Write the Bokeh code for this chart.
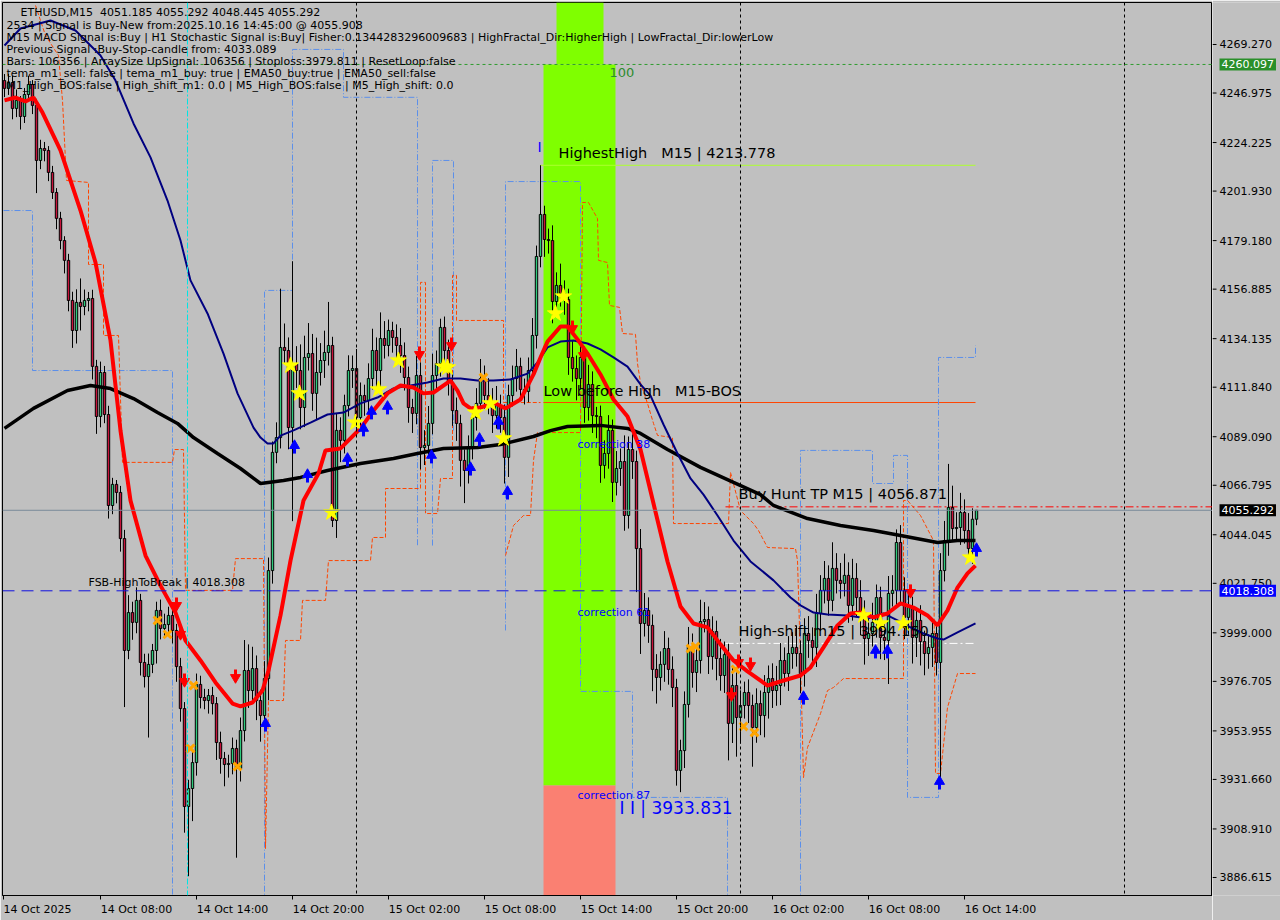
from bokeh.plotting import figure
from bokeh.layouts import row
from bokeh.models import Range1d, FixedTicker, Span, Label
from bokeh.core.properties import value
from bokeh.embed import file_html
from bokeh.resources import INLINE

NaN = float("nan")
NB = "\u00a0"

# ---------------- ETHUSD M15 candles (bar 0 = 14 Oct 02:00) ----------------
first_open = 4252.7
closes = [
    4249.1, 4251.8, 4239.9, 4243.6, 4236.2, 4246.3, 4250.9, 4241.3, 4216.0, 4221.5,
    4220.6, 4210.5, 4201.3, 4189.4, 4179.2, 4170.1, 4151.7, 4137.9, 4150.8, 4148.9,
    4151.7, 4152.6, 4121.4, 4098.4, 4118.6, 4099.3, 4057.5, 4067.2, 4063.5, 4042.3,
    3990.9, 4008.3, 4003.8, 4013.9, 3985.4, 3978.9, 3984.5, 3990.9, 4009.3, 4001.0,
    4002.8, 4007.0, 4000.1, 3983.5, 3964.2, 3919.2, 3927.5, 3939.4, 3975.3, 3969.3,
    3967.9, 3970.2, 3966.5, 3948.6, 3941.3, 3938.5, 3939.0, 3945.9, 3936.7, 3954.1,
    3981.7, 3972.5, 3982.6, 3967.9, 3961.0, 3978.0, 4027.6, 4081.9, 4088.7, 4130.1,
    4128.7, 4093.3, 4122.7, 4119.5, 4102.5, 4125.5, 4127.3, 4109.0, 4118.6, 4124.1,
    4127.8, 4131.0, 4050.6, 4092.0, 4087.4, 4103.4, 4119.5, 4120.4, 4097.9, 4108.0,
    4105.7, 4115.8, 4128.7, 4119.5, 4134.2, 4131.0, 4137.9, 4134.7, 4131.0, 4126.4,
    4116.3, 4102.5, 4099.8, 4117.2, 4084.1, 4085.1, 4095.2, 4117.2, 4122.7, 4139.3,
    4128.7, 4114.0, 4101.1, 4095.2, 4078.2, 4073.6, 4083.7, 4097.9, 4104.4, 4115.8,
    4108.0, 4104.4, 4098.8, 4103.4, 4097.9, 4079.6, 4108.0, 4115.8, 4121.4, 4110.8,
    4109.9, 4119.5, 4135.6, 4171.9, 4191.2, 4179.7, 4179.2, 4151.2, 4158.6, 4154.9,
    4152.1, 4125.5, 4120.4, 4115.8, 4125.5, 4102.5, 4113.1, 4098.8, 4098.4, 4075.9,
    4081.4, 4092.0, 4068.1, 4074.5, 4077.7, 4052.9, 4083.2, 4077.7, 4037.7, 4003.3,
    4009.3, 4002.4, 3982.2, 3978.5, 3984.5, 3991.8, 3982.2, 3973.9, 3935.8, 3944.9,
    3966.1, 3992.7, 3980.8, 3986.3, 4004.2, 4005.1, 3988.1, 3999.6, 3987.2, 3979.4,
    3989.0, 3957.4, 3974.8, 3960.1, 3965.6, 3971.6, 3965.6, 3955.5, 3966.5, 3961.0,
    3971.6, 3978.0, 3972.5, 3974.8, 3986.3, 3980.3, 3989.5, 3992.3, 3989.5, 3980.3,
    3998.7, 3995.5, 3992.3, 4007.9, 4018.5, 4024.0, 4013.9, 4028.6, 4023.1, 4021.7,
    4025.4, 4011.6, 4024.0, 4015.2, 4007.9, 3996.4, 3998.7, 4003.8, 4015.2, 3996.9,
    3995.5, 4017.1, 4018.5, 4040.5, 4018.5, 4006.1, 4010.6, 3996.9, 4004.7, 3995.0,
    3989.5, 3992.3, 3998.7, 3985.4, 4027.6, 4041.4, 4056.6, 4046.9, 4047.4, 4054.3,
    4046.0, 4037.7, 4051.185, 4055.292,
]
upper_wick = [
    3, 4, 3, 5, 2, 3, 4, 2, 3, 4,
    3, 2, 3, 2, 3, 2, 3, 4, 6, 11,
    5, 3, 4, 3, 5, 3, 4, 3, 2, 3,
    4, 8, 5, 6, 3, 4, 5, 3, 4, 5,
    5, 4, 6, 3, 4, 3, 4, 6, 5, 4,
    4, 3, 4, 3, 5, 3, 4, 5, 4, 6,
    14, 12, 10, 6, 5, 8, 6, 5, 7, 27,
    11, 6, 47, 8, 12, 10, 14, 9, 16, 8,
    10, 20, 4, 8, 6, 5, 7, 6, 9, 6,
    5, 7, 10, 6, 12, 8, 5, 4, 6, 8,
    6, 5, 4, 9, 6, 7, 8, 10, 6, 4,
    5, 5, 4, 6, 4, 5, 6, 5, 7, 9,
    6, 8, 7, 9, 5, 6, 5, 6, 8, 4,
    5, 6, 8, 5, 22.6, 4, 5, 7, 6, 10,
    6, 5, 8, 6, 7, 5, 9, 6, 4, 5,
    6, 7, 5, 8, 6, 12, 6, 7, 5, 9,
    8, 6, 5, 7, 6, 8, 5, 6, 4, 5,
    6, 9, 6, 7, 10, 8, 6, 7, 5, 9,
    6, 5, 8, 6, 7, 5, 6, 5, 7, 6,
    8, 6, 7, 9, 8, 6, 8, 7, 10, 6,
    7, 8, 6, 9, 7, 8, 6, 12, 7, 8,
    10, 6, 9, 7, 8, 6, 7, 9, 6, 5,
    6, 8, 7, 6, 8, 6, 7, 5, 6, 7,
    5, 6, 7, 5, 8, 9, 20, 10, 7, 9,
    6, 8, 5, 0,
]
lower_wick = [
    4, 3, 5, 4, 6, 3, 2, 4, 15, 4,
    5, 4, 3, 5, 4, 6, 5, 8, 6, 11,
    4, 5, 6, 8, 5, 4, 6, 4, 5, 6,
    26, 4, 8, 5, 6, 5, 28, 4, 6, 5,
    4, 5, 6, 7, 6, 12, 32, 15, 6, 5,
    4, 6, 5, 8, 7, 10, 6, 5, 41, 6,
    5, 8, 6, 9, 12, 6, 10, 6, 5, 5,
    6, 10, 43, 8, 10, 9, 6, 8, 12, 6,
    8, 6, 3, 8, 10, 6, 5, 8, 9, 6,
    7, 6, 5, 9, 8, 6, 5, 7, 6, 8,
    6, 7, 9, 5, 10, 8, 6, 5, 7, 6,
    5, 6, 7, 8, 12, 15, 6, 5, 6, 4,
    6, 5, 8, 6, 7, 12, 9, 5, 6, 5,
    6, 5, 4, 6, 5, 8, 6, 10, 5, 6,
    7, 8, 6, 10, 5, 7, 6, 8, 10, 8,
    6, 7, 9, 6, 8, 7, 6, 8, 20, 14,
    6, 8, 10, 12, 6, 8, 7, 9, 7, 10,
    8, 6, 7, 9, 6, 5, 8, 6, 10, 7,
    8, 17, 9, 18, 12, 6, 8, 18, 7, 9,
    10, 12, 8, 7, 9, 6, 8, 7, 6, 9,
    6, 8, 7, 9, 8, 6, 7, 5, 6, 7,
    6, 8, 7, 9, 10, 12, 8, 6, 7, 10,
    9, 20, 6, 8, 7, 10, 8, 12, 9, 11,
    10, 7, 9, 6, 58, 5, 7, 6, 5, 8,
    6, 5, 7, 2.74,
]

# ---------------- moving averages (bar, price) ----------------
ema_fast_x = [0, 2.75, 5.25, 7.25, 9.5, 14, 19, 22.75, 26.5, 29, 31.5, 35.25, 39, 42.75, 45.25,
              49, 52.75, 57, 59, 62, 64.5, 66, 69, 71.5, 72.75, 74.75, 78.5, 80.25, 84, 89,
              92.25, 95.75, 99, 102.25, 104.75, 107.25, 111.5, 113.25, 114.75, 116.5, 119,
              122.25, 125.25, 129, 132.25, 134, 135.75, 139, 140.75, 143.25, 145.75, 149,
              152.25, 155.75, 159, 162.25, 165.75, 169, 172.25, 175.75, 179, 182.25, 185.75,
              190.75, 194.75, 199, 201.5, 204.75, 208.25, 211.5, 214, 217.25, 220.75, 224,
              227.25, 230.75, 233.25, 235.75, 238.25, 240.75, 242.75]
ema_fast_y = [4243.6, 4244.9, 4243.1, 4244.9, 4238.0, 4220.6, 4193.0, 4169.1, 4133.3, 4091.9,
              4059.8, 4034.5, 4020.7, 4008.3, 3995.5, 3986.3, 3976.2, 3966.5, 3965.2, 3967.0,
              3972.5, 3981.7, 4007.0, 4032.2, 4042.8, 4059.8, 4072.2, 4082.8, 4083.7, 4092.9,
              4101.1, 4109.0, 4112.6, 4111.7, 4109.0, 4109.4, 4114.9, 4110.3, 4104.4, 4102.1,
              4102.5, 4104.8, 4102.1, 4106.2, 4117.7, 4125.5, 4132.8, 4139.7, 4139.7, 4133.8,
              4127.3, 4117.7, 4106.2, 4098.4, 4083.2, 4058.4, 4031.8, 4011.1, 4003.3, 4001.5,
              3993.7, 3986.3, 3981.3, 3974.8, 3977.1, 3979.4, 3983.1, 3992.3, 4002.4, 4007.9,
              4008.3, 4006.1, 4007.9, 4012.5, 4010.6, 4007.0, 4002.4, 4009.3, 4019.8, 4026.3,
              4029.9]
ema_mid_x = [0, 4, 11.5, 17.75, 24, 27.75, 32.25, 36.5, 40.75, 44, 46.5, 50.75, 54.75, 58.25,
             62.25, 64, 65.75, 67.25, 69, 72.25, 76.5, 80.75, 84.75, 89, 93.25, 97.25, 101.5,
             105.75, 109.75, 114, 118.25, 122.25, 126.5, 130.75, 133.25, 135.75, 139, 142.25,
             145.75, 149, 152.25, 155.75, 159, 161.5, 164.75, 168.25, 171.5, 174.75, 178.25,
             182.25, 186.5, 192.25, 196.5, 199, 202.25, 205.75, 210.75, 215.75, 219.75,
             223.25, 226.5, 229.75, 233.25, 234.75, 238.25, 242.75]
ema_mid_y = [4268.8, 4276.6, 4280.3, 4275.7, 4264.2, 4252.7, 4233.0, 4217.4, 4197.6, 4179.2,
             4160.9, 4145.7, 4127.3, 4109.0, 4093.3, 4088.7, 4086.0, 4086.0, 4089.6, 4092.0,
             4095.6, 4099.3, 4100.2, 4104.4, 4107.1, 4111.3, 4112.6, 4114.0, 4115.8, 4115.8,
             4114.9, 4114.9, 4115.4, 4118.1, 4123.2, 4130.1, 4132.8, 4133.3, 4131.9, 4129.2,
             4125.5, 4121.3, 4113.1, 4108.0, 4094.7, 4081.4, 4069.9, 4062.5, 4052.9, 4041.4,
             4031.8, 4023.1, 4015.2, 4011.6, 4008.3, 4007.4, 4007.0, 4005.6, 4007.9, 4004.7,
             4001.5, 3998.7, 3996.4, 3995.9, 3999.2, 4003.3]
ema_slow_x = [0, 7.25, 15.75, 21.5, 26.5, 32.25, 38.25, 43.25, 47.25, 53.25, 59, 64, 69.75,
              74, 80.75, 89, 97.25, 103.25, 109.75, 118.25, 124, 132.25, 136.5, 140.75, 149,
              155.75, 159, 165.75, 174, 182.25, 189, 192.25, 200.75, 209, 217.25, 224,
              233.25, 238.25, 242.75]
ema_slow_y = [4092.9, 4102.1, 4110.3, 4112.6, 4111.2, 4106.6, 4100.2, 4095.2, 4088.7, 4081.4,
              4074.5, 4067.6, 4069.0, 4070.4, 4073.6, 4076.8, 4079.1, 4081.4, 4083.7, 4084.1,
              4085.5, 4089.2, 4091.9, 4093.8, 4094.3, 4092.9, 4090.6, 4083.2, 4075.0, 4068.1,
              4062.5, 4057.5, 4051.5, 4048.3, 4046.0, 4043.7, 4040.5, 4041.4, 4041.4]

# ---------------- stepped channel lines ----------------
channel_blue_x = [-0.25, 7, 7, 42, 42, NaN,
                  65, 65, 72, 72, 84.75, 84.75, 103.25, 103.25, NaN,
                  107, 107, 112.25, 112.25, NaN,
                  125.25, 125.25, 144, 144, 157, 157, 180.75, 180.75, NaN,
                  199, 199, 217, 217, 222.25, 222.25, 225.75, 225.75, 233.5, 233.5,
                  242.75, 242.75]
channel_blue_y = [4193.0, 4193.0, 4119.5, 4119.5, 3870.0, NaN,
                  3870.0, 4156.3, 4156.3, 4267.0, 4267.0, 4245.0, 4245.0, 4039.1, NaN,
                  4039.1, 4216.0, 4216.0, 4091.9, NaN,
                  4000.1, 4206.3, 4206.3, 3972.1, 3972.1, 3923.4, 3923.4, 3870.0, NaN,
                  3870.0, 4082.8, 4082.8, 4067.6, 4067.6, 4080.5, 4080.5, 3923.4, 3923.4,
                  4125.5, 4125.5, 4131.0]
channel_orange_x = [7.75, 10.25, 13.5, 14.5, 15.5, 21, 21, 24.75, 24.75, 28.5, 29.5, 42, 42.5,
                    44.75, 45.25, 57, 57.75, 64.75, 65.25, 66, 69.75, 70.25, 74, 74.5, 80.25,
                    81, 85.25, 91.5, 92, 95.25, 95.25, 104, 104, 105.25, 105.25, 108.25, 109,
                    112, 112, 113, 113, 124.75, 124.75, 134, NaN,
                    125.25, 127.25, 129.75, 131.5, 132.25, 133.25, 144, 144.5, 146, 148.25,
                    148.5, 150.75, 151.25, 153.75, 154.5, 157.75, 158.25, 159, 160.75, 162.25,
                    163.25, 167, 167.25, 181, 181.5, 184, 187.25, 188.5, 190.75, 197.75,
                    198.25, 199, 199.75, 200.75, 204, 205.75, 207.25, 209.75, 224.75, 224.75,
                    225.75, 229, 232.25, 232.75, 234, 235.75, 238.25, 242.75]
channel_orange_y = [4287.2, 4273.4, 4264.2, 4243.6, 4206.8, 4205.9, 4168.2, 4168.2, 4135.6,
                    4135.6, 4077.3, 4077.3, 4083.2, 4083.2, 4018.5, 4018.5, 4033.1, 4033.1,
                    3899.9, 3967.9, 3967.9, 3995.5, 3995.5, 4013.9, 4013.9, 4032.2, 4032.2,
                    4032.2, 4042.8, 4042.8, 4065.3, 4065.3, 4160.0, 4160.0, 4053.8, 4053.8,
                    4069.9, 4069.9, 4163.2, 4163.2, 4142.5, 4142.5, 4104.8, 4104.8, NaN,
                    4034.5, 4048.3, 4052.9, 4052.9, 4078.2, 4091.0, 4091.0, 4196.7, 4196.7,
                    4189.3, 4170.1, 4169.1, 4149.4, 4148.5, 4136.5, 4136.1, 4122.7, 4114.0,
                    4104.4, 4095.2, 4089.7, 4088.7, 4049.2, 4049.2, 4072.7, 4055.2, 4049.2,
                    4046.0, 4038.2, 4037.7, 4032.2, 3986.3, 3932.5, 3946.3, 3961.9, 3972.5,
                    3973.9, 3978.0, 3978.0, 4059.8, 4059.8, 4052.9, 4041.4, 3934.4, 3934.4,
                    3964.7, 3980.3, 3980.3]

# ---------------- signal markers ----------------
star_x = [71.5, 73.75, 81.75, 87.75, 93.5, 98.5, 109.75, 110.75, 117.75, 121.5, 124.75,
          137.75, 139.75, 214.75, 219, 224.75, 241.5]
star_y = [4121.8, 4109.0, 4054.3, 4095.6, 4110.8, 4124.1, 4121.3, 4120.9, 4100.2, 4104.4,
          4088.3, 4145.7, 4153.5, 4007.0, 4003.3, 4003.3, 4033.6]
cross_x = [38.25, 40.75, 47.25, 46.5, 58.25, 119.75, 171.5, 172.75, 182.75, 184.75, 187.5]
cross_y = [4004.7, 3998.3, 3974.8, 3945.9, 3937.6, 4116.3, 3991.8, 3992.7, 3982.2, 3956.0, 3953.2]
buy_x = [65.25, 72.5, 75.75, 85.75, 89.75, 91.75, 95.75, 106.75, 116.5, 118.75, 123.5, 125.75,
         199.75, 217.75, 220.75, 233.75, 243]
buy_y = [3956.4, 4084.1, 4070.8, 4078.2, 4092.0, 4099.8, 4102.1, 4079.6, 4074.0, 4087.4,
         4095.2, 4063.0, 3968.8, 3990.0, 3990.0, 3929.8, 4036.8]
sell_x = [43, 44, 45, 57.75, 103.75, 111.75, 142, 144.75, 181.75, 183.5, 186.5, 226.5]
sell_y = [4012.5, 3999.2, 3977.6, 3979.4, 4127.8, 4131.9, 4139.7, 4127.3, 3971.1, 3986.3,
          3984.9, 4018.5]

# ---------------- levels ----------------
TOP_LEVEL = 4260.097
HIGHEST_HIGH = 4213.778
LOW_BEFORE_HIGH = 4104.8
BUY_HUNT_TP = 4056.871
LAST_PRICE = 4055.292
FSB_HIGH = 4018.308
HIGH_SHIFT = 3994.150
CORR_LOW = 3933.831
ZONE_SPLIT = 3928.9
zone_left, zone_right = 134.75, 152.75
zone_top_left, zone_top_right = 138.0, 149.75
level_start = 134.75
level_end = 242.75
hunt_start = 180.25
day_breaks = [88, 184, 280]
cyan_mark = 45.75

y_ticks = [4269.270, 4246.975, 4224.225, 4201.930, 4179.180, 4156.885, 4134.135, 4111.840,
           4089.090, 4066.795, 4044.045, 4021.750, 3999.000, 3976.705, 3953.955, 3931.660,
           3908.910, 3886.615]
x_tick_bars = [-0.25, 24, 48, 72, 96, 120, 144, 168, 192, 216, 240]
x_tick_labels = ["14 Oct 2025", "14 Oct 08:00", "14 Oct 14:00", "14 Oct 20:00", "15 Oct 02:00",
                 "15 Oct 08:00", "15 Oct 14:00", "15 Oct 20:00", "16 Oct 02:00",
                 "16 Oct 08:00", "16 Oct 14:00"]
price_tags = [(TOP_LEVEL, "#2A8F2A"), (LAST_PRICE, "black"), (FSB_HIGH, "#0000FF")]

info_lines = [
    "ETHUSD,M15" + NB + NB + "4051.185 4055.292 4048.445 4055.292",
    "2534 | Signal is Buy-New from:2025.10.16 14:45:00 @ 4055.908",
    "M15 MACD Signal is:Buy | H1 Stochastic Signal is:Buy| Fisher:0.1344283296009683 | HighFractal_Dir:HigherHigh | LowFractal_Dir:lowerLow",
    "Previous Signal :Buy-Stop-candle from: 4033.089",
    "Bars: 106356 | ArraySize UpSignal: 106356 | Stoploss:3979.811 | ResetLoop:false",
    "tema_m1_sell: false | tema_m1_buy: true | EMA50_buy:true | EMA50_sell:false",
    "M1_High_BOS:false | High_shift_m1: 0.0 | M5_High_BOS:false | M5_High_shift: 0.0",
]

# ---------------- chart panel ----------------
X_LO, X_HI = -0.5, 302.0
Y_LO, Y_HI = 3878.34, 4288.56
FRAME_W, FRAME_H = 1210, 893
PX = (Y_HI - Y_LO) / FRAME_H          # price per screen pixel
BX = (X_HI - X_LO) / FRAME_W          # bars per screen pixel


def ax(px):
    return X_LO + (px - 2) * BX


def ay(py):
    return Y_HI - (py - 2) * PX


BG = "#C0C0C0"
FONT = "DejaVu Sans"

p = figure(width=1212, height=920, output_backend="svg", toolbar_location=None,
           x_range=Range1d(X_LO, X_HI), y_range=Range1d(Y_LO, Y_HI),
           y_axis_location=None, min_border_left=2, min_border_right=0,
           min_border_top=2, min_border_bottom=25)
p.background_fill_color = BG
p.border_fill_color = BG
p.outline_line_color = "black"
p.grid.visible = False

# zones
p.quad(left=[zone_left], right=[zone_right], bottom=[ZONE_SPLIT], top=[TOP_LEVEL],
       fill_color="#7FFF00", line_color=None)
p.quad(left=[zone_top_left], right=[zone_top_right], bottom=[TOP_LEVEL], top=[Y_HI],
       fill_color="#7FFF00", line_color=None)
p.quad(left=[zone_left], right=[zone_right], bottom=[Y_LO], top=[ZONE_SPLIT],
       fill_color="#FA8072", line_color=None)

# vertical markers
for d in day_breaks:
    p.add_layout(Span(location=d, dimension="height", line_color="black",
                      line_dash="3 3", line_width=1))
p.add_layout(Span(location=cyan_mark, dimension="height", line_color="#00E5E5",
                  line_dash="6 2 2 2", line_width=1))

# horizontal levels
p.add_layout(Span(location=TOP_LEVEL, dimension="width", line_color="#2E9B2E",
                  line_dash="3 3", line_width=1))
p.add_layout(Span(location=FSB_HIGH, dimension="width", line_color="#1010E0",
                  line_dash="12 7", line_width=1))
p.add_layout(Span(location=LAST_PRICE, dimension="width", line_color="#7A8A9A", line_width=1))
p.segment(x0=[hunt_start], x1=[X_HI], y0=[BUY_HUNT_TP], y1=[BUY_HUNT_TP],
          line_color="#FF0000", line_dash="8 3 2 3", line_width=1)
p.segment(x0=[level_start], x1=[level_end], y0=[LOW_BEFORE_HIGH], y1=[LOW_BEFORE_HIGH],
          line_color="#FF4500", line_width=1)
p.segment(x0=[level_start - 0.75], x1=[level_end], y0=[HIGHEST_HIGH], y1=[HIGHEST_HIGH],
          line_color="#ADFF2F", line_width=1)
p.segment(x0=[hunt_start], x1=[level_end], y0=[HIGH_SHIFT], y1=[HIGH_SHIFT],
          line_color="white", line_dash="8 3 2 3", line_width=1)

# channel steps
p.line(channel_blue_x, channel_blue_y, line_color="#5B8FEA", line_dash="6 2 1 2", line_width=1)
p.line(channel_orange_x, channel_orange_y, line_color="#FF4500", line_dash="4 2", line_width=1)

# candles
bars = list(range(len(closes)))
opens = [first_open] + closes[:-1]
highs = [max(o, c) + u for o, c, u in zip(opens, closes, upper_wick)]
lows = [min(o, c) - d for o, c, d in zip(opens, closes, lower_wick)]
body_top = [max(o, c) for o, c in zip(opens, closes)]
body_bot = [min(o, c) for o, c in zip(opens, closes)]
colors = ["#2FCB7D" if c >= o else "#C8143C" for o, c in zip(opens, closes)]
p.segment(x0=bars, x1=bars, y0=lows, y1=highs, line_color="black", line_width=1)
p.vbar(x=bars, width=0.6, top=body_top, bottom=body_bot, fill_color=colors,
       line_color="black", line_width=1)

# averages
p.line(ema_slow_x, ema_slow_y, line_color="black", line_width=3.5)
p.line(ema_mid_x, ema_mid_y, line_color="#000080", line_width=2)
p.line(ema_fast_x, ema_fast_y, line_color="#FF0000", line_width=4)

# signals
p.scatter(star_x, star_y, marker="star", size=17, fill_color="#FFFF00", line_color="#FFFF00")
p.scatter(cross_x, cross_y, marker="x", size=11, line_color="#FFA500", line_width=3)
p.segment(x0=buy_x, x1=buy_x, y0=[v - 6 * PX for v in buy_y], y1=buy_y,
          line_color="#0000FF", line_width=3)
p.scatter(buy_x, [v + 2 * PX for v in buy_y], marker="triangle", size=10,
          fill_color="#0000FF", line_color="#0000FF")
p.segment(x0=sell_x, x1=sell_x, y0=[v + 6 * PX for v in sell_y], y1=sell_y,
          line_color="#FF0000", line_width=3)
p.scatter(sell_x, [v - 2 * PX for v in sell_y], marker="inverted_triangle", size=10,
          fill_color="#FF0000", line_color="#FF0000")


def lab(fig, x, y, text, size="11px", color="black", **kw):
    fig.add_layout(Label(x=x, y=y, text=text, text_font=FONT, text_font_size=size,
                         text_color=color, text_baseline="middle", text_align="left", **kw))


# info block
lab(p, ax(20), ay(12), info_lines[0])
for i, line in enumerate(info_lines[1:]):
    lab(p, ax(6), ay(25 + 12 * i), line)

# level captions
lab(p, ax(558), HIGHEST_HIGH + 12 * PX,
    "HighestHigh" + NB * 3 + "M15 | %.3f" % HIGHEST_HIGH, size="14.5px")
lab(p, ax(543), LOW_BEFORE_HIGH + 12 * PX, "Low before High" + NB * 3 + "M15-BOS", size="14.5px")
lab(p, ax(738), BUY_HUNT_TP + 13 * PX, "Buy Hunt TP M15 | %.3f" % BUY_HUNT_TP, size="14.5px")
lab(p, ax(738), HIGH_SHIFT + 12 * PX, "High-shift m15 | %.3f" % HIGH_SHIFT, size="14.5px")
lab(p, ax(88), FSB_HIGH + 8 * PX, "FSB-HighToBreak | %.3f" % FSB_HIGH, size="11px")
lab(p, ax(577), ay(444), "correction 38", color="#0000FF")
lab(p, ax(577), ay(612), "correction 61", color="#0000FF")
lab(p, ax(577), ay(795), "correction 87", color="#0000FF")
lab(p, ax(619), ay(807), "I I | %.3f" % CORR_LOW, size="17px", color="#0000FF")
lab(p, ax(609), ay(72), "100", size="13px", color="#2E8B2E")
lab(p, ax(537), ay(146), "I", size="14px", color="#0000FF")

# time scale
xa = p.xaxis[0]
centers = [t + (8.5 if i == 0 else 9) for i, t in enumerate(x_tick_bars)]
xa.ticker = FixedTicker(ticks=centers, minor_ticks=x_tick_bars)
xa.major_label_overrides = {c: t for c, t in zip(centers, x_tick_labels)}
xa.major_tick_line_color = None
xa.major_tick_out = 4
xa.major_tick_in = 0
xa.minor_tick_out = 4
xa.minor_tick_in = 0
xa.minor_tick_line_color = "black"
xa.major_label_standoff = 3
xa.major_label_text_font = FONT
xa.major_label_text_font_size = "11px"
xa.major_label_text_color = "black"
xa.axis_line_color = "black"

# ---------------- price scale panel (shares the price range) ----------------
s = figure(width=68, height=920, output_backend="svg", toolbar_location=None,
           x_range=Range1d(0, 68), y_range=p.y_range,
           x_axis_location=None, y_axis_location=None,
           min_border_left=0, min_border_right=0, min_border_top=2, min_border_bottom=25)
s.background_fill_color = BG
s.border_fill_color = BG
s.outline_line_color = None
s.grid.visible = False
s.segment(x0=[0] * len(y_ticks), x1=[4] * len(y_ticks), y0=y_ticks, y1=y_ticks,
          line_color="black", line_width=1)
s.text(x=[7] * len(y_ticks), y=y_ticks, text=["%.3f" % v for v in y_ticks],
       text_font=value(FONT), text_font_size=value("11px"), text_color="black",
       text_baseline="middle", text_align="left")
for val, bg in price_tags:
    lab(s, 7, val, "%.3f" % val, color="white", background_fill_color=bg, padding=2)

layout = row(p, s)
open("out.html", "w").write(file_html(layout, INLINE))
